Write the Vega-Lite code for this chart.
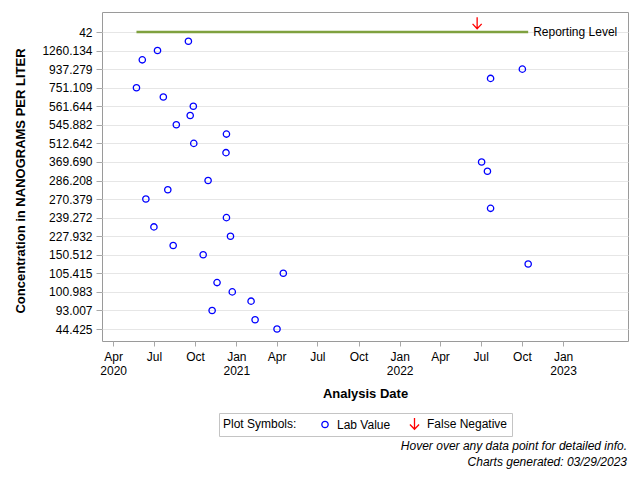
{
  "$schema": "https://vega.github.io/schema/vega-lite/v6.json",
  "width": 526,
  "height": 329,
  "autosize": {"type": "none"},
  "padding": {"left": 102, "top": 12, "right": 12, "bottom": 139},
  "background": "white",
  "config": {
    "font": "Liberation Sans",
    "view": {"stroke": "#9a9a9a", "strokeWidth": 1},
    "axis": {
      "labelFontSize": 12,
      "labelColor": "#000000",
      "titleFontSize": 13,
      "titleFontWeight": "bold",
      "titleColor": "#000000",
      "tickColor": "#a8a8a8",
      "domain": false,
      "labelOverlap": false
    }
  },
  "title": {
    "text": ["Hover over any data point for detailed info.", "Charts generated: 03/29/2023"],
    "orient": "bottom",
    "anchor": "end",
    "fontStyle": "italic",
    "fontWeight": "normal",
    "fontSize": 12,
    "color": "#000000",
    "lineHeight": 16,
    "offset": 4,
    "dx": -1
  },
  "datasets": {
    "lab": [
      {"date": "2020/09/16", "conc": "1385.210", "type": "Lab Value"},
      {"date": "2020/07/09", "conc": "1260.134", "type": "Lab Value"},
      {"date": "2020/06/05", "conc": "1089.562", "type": "Lab Value"},
      {"date": "2022/10/02", "conc": "937.279", "type": "Lab Value"},
      {"date": "2022/07/23", "conc": "843.917", "type": "Lab Value"},
      {"date": "2020/05/23", "conc": "751.109", "type": "Lab Value"},
      {"date": "2020/07/22", "conc": "648.305", "type": "Lab Value"},
      {"date": "2020/09/27", "conc": "561.644", "type": "Lab Value"},
      {"date": "2020/09/20", "conc": "553.208", "type": "Lab Value"},
      {"date": "2020/08/20", "conc": "545.882", "type": "Lab Value"},
      {"date": "2020/12/10", "conc": "531.470", "type": "Lab Value"},
      {"date": "2020/09/28", "conc": "512.642", "type": "Lab Value"},
      {"date": "2020/12/09", "conc": "437.815", "type": "Lab Value"},
      {"date": "2022/07/03", "conc": "369.690", "type": "Lab Value"},
      {"date": "2022/07/16", "conc": "312.554", "type": "Lab Value"},
      {"date": "2020/10/30", "conc": "286.208", "type": "Lab Value"},
      {"date": "2020/08/01", "conc": "278.931", "type": "Lab Value"},
      {"date": "2020/06/13", "conc": "270.379", "type": "Lab Value"},
      {"date": "2022/07/23", "conc": "254.106", "type": "Lab Value"},
      {"date": "2020/12/10", "conc": "239.272", "type": "Lab Value"},
      {"date": "2020/07/01", "conc": "233.518", "type": "Lab Value"},
      {"date": "2020/12/19", "conc": "227.932", "type": "Lab Value"},
      {"date": "2020/08/13", "conc": "187.340", "type": "Lab Value"},
      {"date": "2020/10/19", "conc": "150.512", "type": "Lab Value"},
      {"date": "2022/10/15", "conc": "127.864", "type": "Lab Value"},
      {"date": "2021/04/16", "conc": "105.415", "type": "Lab Value"},
      {"date": "2020/11/19", "conc": "103.027", "type": "Lab Value"},
      {"date": "2020/12/23", "conc": "100.983", "type": "Lab Value"},
      {"date": "2021/02/03", "conc": "96.741", "type": "Lab Value"},
      {"date": "2020/11/08", "conc": "93.007", "type": "Lab Value"},
      {"date": "2021/02/12", "conc": "68.205", "type": "Lab Value"},
      {"date": "2021/04/02", "conc": "44.425", "type": "Lab Value"}
    ],
    "fn": [
      {"date": "2022/06/23", "conc": "42", "type": "False Negative"}
    ],
    "rl": [
      {"date": "2020/05/23", "end": "2022/10/15", "conc": "42", "label": "Reporting Level"}
    ]
  },
  "encoding": {
    "x": {
      "field": "date",
      "type": "temporal",
      "scale": {"domain": [{"year": 2020, "month": 3, "date": 7}, {"year": 2023, "month": 5, "date": 26}]},
      "axis": {
        "title": "Analysis Date",
        "grid": false,
        "tickSize": 5,
        "labelPadding": 5,
        "titlePadding": 11,
        "labelLineHeight": 14,
        "values": [
          {"year": 2020, "month": 4, "date": 1},
          {"year": 2020, "month": 7, "date": 1},
          {"year": 2020, "month": 10, "date": 1},
          {"year": 2021, "month": 1, "date": 1},
          {"year": 2021, "month": 4, "date": 1},
          {"year": 2021, "month": 7, "date": 1},
          {"year": 2021, "month": 10, "date": 1},
          {"year": 2022, "month": 1, "date": 1},
          {"year": 2022, "month": 4, "date": 1},
          {"year": 2022, "month": 7, "date": 1},
          {"year": 2022, "month": 10, "date": 1},
          {"year": 2023, "month": 1, "date": 1}
        ],
        "labelExpr": "(month(datum.value) == 0 || (year(datum.value) == 2020 && month(datum.value) == 3)) ? [timeFormat(datum.value, '%b'), timeFormat(datum.value, '%Y')] : timeFormat(datum.value, '%b')"
      }
    },
    "y": {
      "field": "conc",
      "type": "ordinal",
      "scale": {
        "type": "point",
        "padding": 0,
        "range": [20, 317],
        "domain": ["42", "1385.210", "1260.134", "1089.562", "937.279", "843.917", "751.109", "648.305", "561.644", "553.208", "545.882", "531.470", "512.642", "437.815", "369.690", "312.554", "286.208", "278.931", "270.379", "254.106", "239.272", "233.518", "227.932", "187.340", "150.512", "127.864", "105.415", "103.027", "100.983", "96.741", "93.007", "68.205", "44.425"]
      },
      "axis": {
        "title": "Concentration in NANOGRAMS PER LITER",
        "grid": true,
        "gridColor": "#e6e6e6",
        "tickSize": 6,
        "labelPadding": 4,
        "titlePadding": 14,
        "values": ["42", "1260.134", "937.279", "751.109", "561.644", "545.882", "512.642", "369.690", "286.208", "270.379", "239.272", "227.932", "150.512", "105.415", "100.983", "93.007", "44.425"]
      }
    }
  },
  "layer": [
    {
      "data": {"name": "rl"},
      "mark": {"type": "rule", "color": "#7fa13f", "strokeWidth": 2.5},
      "encoding": {"x2": {"field": "end"}}
    },
    {
      "data": {"name": "rl"},
      "mark": {"type": "text", "align": "left", "baseline": "middle", "dx": 5, "fontSize": 12, "color": "#000000"},
      "encoding": {
        "x": {"field": "end", "type": "temporal"},
        "text": {"field": "label"}
      }
    },
    {
      "data": {"name": "lab"},
      "mark": {"type": "point", "filled": false, "strokeWidth": 1.3, "opacity": 1},
      "encoding": {
        "color": {"field": "type", "type": "nominal", "scale": {"domain": ["Lab Value", "False Negative"], "range": ["#0000ff", "#ff0000"]}, "legend": {"title": "Plot Symbols:", "orient": "none", "legendX": 117, "legendY": 401, "direction": "horizontal", "titleOrient": "left", "padding": 4, "strokeColor": "#c4c4c4", "titlePadding": 22, "titleFontSize": 12, "titleFontWeight": "normal", "titleColor": "#000000", "labelFontSize": 12, "labelColor": "#000000", "labelOffset": 6, "columnPadding": 16, "symbolStrokeWidth": 1.3}},
        "shape": {"field": "type", "type": "nominal", "scale": {"domain": ["Lab Value", "False Negative"], "range": ["circle", "M0,-1L0,1M-0.8,0.15L0,1L0.8,0.15"]}, "legend": {"title": "Plot Symbols:", "orient": "none", "legendX": 117, "legendY": 401, "direction": "horizontal", "titleOrient": "left", "padding": 4, "strokeColor": "#c4c4c4", "titlePadding": 22, "titleFontSize": 12, "titleFontWeight": "normal", "titleColor": "#000000", "labelFontSize": 12, "labelColor": "#000000", "labelOffset": 6, "columnPadding": 16, "symbolStrokeWidth": 1.3}},
        "size": {"field": "type", "type": "nominal", "scale": {"domain": ["Lab Value", "False Negative"], "range": [40, 130]}, "legend": {"title": "Plot Symbols:", "orient": "none", "legendX": 117, "legendY": 401, "direction": "horizontal", "titleOrient": "left", "padding": 4, "strokeColor": "#c4c4c4", "titlePadding": 22, "titleFontSize": 12, "titleFontWeight": "normal", "titleColor": "#000000", "labelFontSize": 12, "labelColor": "#000000", "labelOffset": 6, "columnPadding": 16, "symbolStrokeWidth": 1.3}}
      }
    },
    {
      "data": {"name": "fn"},
      "mark": {"type": "point", "filled": false, "strokeWidth": 1.3, "opacity": 1, "yOffset": -9},
      "encoding": {
        "color": {"field": "type", "type": "nominal"},
        "shape": {"field": "type", "type": "nominal"},
        "size": {"field": "type", "type": "nominal"}
      }
    }
  ]
}
